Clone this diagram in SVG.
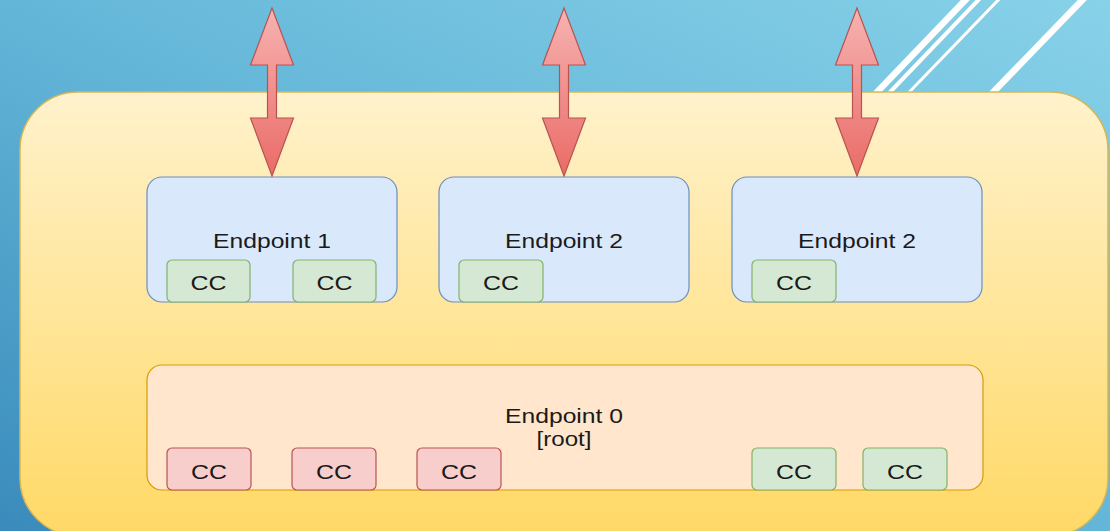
<svg xmlns="http://www.w3.org/2000/svg" width="1110" height="531" viewBox="0 0 1110 531">
  <defs>
    <linearGradient id="bg" x1="1" y1="0" x2="0" y2="1">
      <stop offset="0" stop-color="#88d2e9"/>
      <stop offset="0.5" stop-color="#64b6d8"/>
      <stop offset="1" stop-color="#3a8bbb"/>
    </linearGradient>
    <linearGradient id="yellow" x1="0" y1="0" x2="0" y2="1">
      <stop offset="0" stop-color="#fff2cc"/>
      <stop offset="1" stop-color="#ffd966"/>
    </linearGradient>
    <linearGradient id="red" x1="0" y1="0" x2="0" y2="1">
      <stop offset="0" stop-color="#f6b3b2"/>
      <stop offset="1" stop-color="#ea6b66"/>
    </linearGradient>
    <style>
      .deco { stroke: #ffffff; fill: none; }
      .endpoint { fill: #dae8fc; stroke: #6c8ebf; stroke-width: 1.2; }
      .root { fill: #ffe6cc; stroke: #d79b00; stroke-width: 1.2; }
      .cc-green { fill: #d5e8d4; stroke: #82b366; stroke-width: 1.2; }
      .cc-red { fill: #f8cecc; stroke: #b85450; stroke-width: 1.2; }
      .arrow { fill: url(#red); stroke: #b85450; stroke-width: 1.2; }
      text { font-family: "Liberation Sans", Arial, sans-serif; font-size: 21px; fill: #1a1a1a; text-anchor: middle; }
    </style>
  </defs>

  <!-- background -->
  <rect x="0" y="0" width="1110" height="531" fill="url(#bg)"/>

  <!-- decorative diagonal strokes, top right -->
  <g id="decoration">
    <line class="deco" x1="858" y1="112" x2="973" y2="-8" stroke-width="6.5"/>
    <line class="deco" x1="871" y1="112" x2="986" y2="-8" stroke-width="4"/>
    <line class="deco" x1="890" y1="112" x2="1006" y2="-8" stroke-width="3"/>
    <line class="deco" x1="974" y1="112" x2="1090" y2="-8" stroke-width="6.5"/>
  </g>

  <!-- device container -->
  <g id="device">
    <rect x="20" y="92" width="1088" height="444" rx="58" ry="58" fill="url(#yellow)" stroke="#d6b656" stroke-width="1.5"/>
  </g>

  <!-- endpoint 1 -->
  <g id="endpoint1">
    <rect class="endpoint" x="147" y="177" width="250" height="125" rx="15" ry="15"/>
    <text x="272" y="248" textLength="118" lengthAdjust="spacingAndGlyphs">Endpoint 1</text>
    <rect class="cc-green" x="167" y="260" width="83" height="42" rx="5" ry="5"/>
    <text x="208.5" y="290" textLength="36" lengthAdjust="spacingAndGlyphs">CC</text>
    <rect class="cc-green" x="293" y="260" width="83" height="42" rx="5" ry="5"/>
    <text x="334.5" y="290" textLength="36" lengthAdjust="spacingAndGlyphs">CC</text>
  </g>

  <!-- endpoint 2 (middle) -->
  <g id="endpoint2a">
    <rect class="endpoint" x="439" y="177" width="250" height="125" rx="15" ry="15"/>
    <text x="564" y="248" textLength="118" lengthAdjust="spacingAndGlyphs">Endpoint 2</text>
    <rect class="cc-green" x="459" y="260" width="84" height="42" rx="5" ry="5"/>
    <text x="501" y="290" textLength="36" lengthAdjust="spacingAndGlyphs">CC</text>
  </g>

  <!-- endpoint 2 (right) -->
  <g id="endpoint2b">
    <rect class="endpoint" x="732" y="177" width="250" height="125" rx="15" ry="15"/>
    <text x="857" y="248" textLength="118" lengthAdjust="spacingAndGlyphs">Endpoint 2</text>
    <rect class="cc-green" x="752" y="260" width="84" height="42" rx="5" ry="5"/>
    <text x="794" y="290" textLength="36" lengthAdjust="spacingAndGlyphs">CC</text>
  </g>

  <!-- endpoint 0 (root) -->
  <g id="endpoint0">
    <rect class="root" x="147" y="365" width="836" height="125" rx="15" ry="15"/>
    <text x="564" y="423" textLength="118" lengthAdjust="spacingAndGlyphs">Endpoint 0</text>
    <text x="564" y="446" textLength="55" lengthAdjust="spacingAndGlyphs">[root]</text>
    <rect class="cc-red" x="167" y="448" width="84" height="42" rx="5" ry="5"/>
    <text x="209" y="479" textLength="36" lengthAdjust="spacingAndGlyphs">CC</text>
    <rect class="cc-red" x="292" y="448" width="84" height="42" rx="5" ry="5"/>
    <text x="334" y="479" textLength="36" lengthAdjust="spacingAndGlyphs">CC</text>
    <rect class="cc-red" x="417" y="448" width="84" height="42" rx="5" ry="5"/>
    <text x="459" y="479" textLength="36" lengthAdjust="spacingAndGlyphs">CC</text>
    <rect class="cc-green" x="752" y="448" width="84" height="42" rx="5" ry="5"/>
    <text x="794" y="479" textLength="36" lengthAdjust="spacingAndGlyphs">CC</text>
    <rect class="cc-green" x="863" y="448" width="84" height="42" rx="5" ry="5"/>
    <text x="905" y="479" textLength="36" lengthAdjust="spacingAndGlyphs">CC</text>
  </g>

  <!-- double-headed links from the outside to each endpoint -->
  <g id="connectors">
    <polygon class="arrow" points="272,8 293.5,65 276.5,65 276.5,118 293.5,118 272,176 250.5,118 267.5,118 267.5,65 250.5,65"/>
    <polygon class="arrow" points="564,8 585.5,65 568.5,65 568.5,118 585.5,118 564,176 542.5,118 559.5,118 559.5,65 542.5,65"/>
    <polygon class="arrow" points="857,8 878.5,65 861.5,65 861.5,118 878.5,118 857,176 835.5,118 852.5,118 852.5,65 835.5,65"/>
  </g>
</svg>
